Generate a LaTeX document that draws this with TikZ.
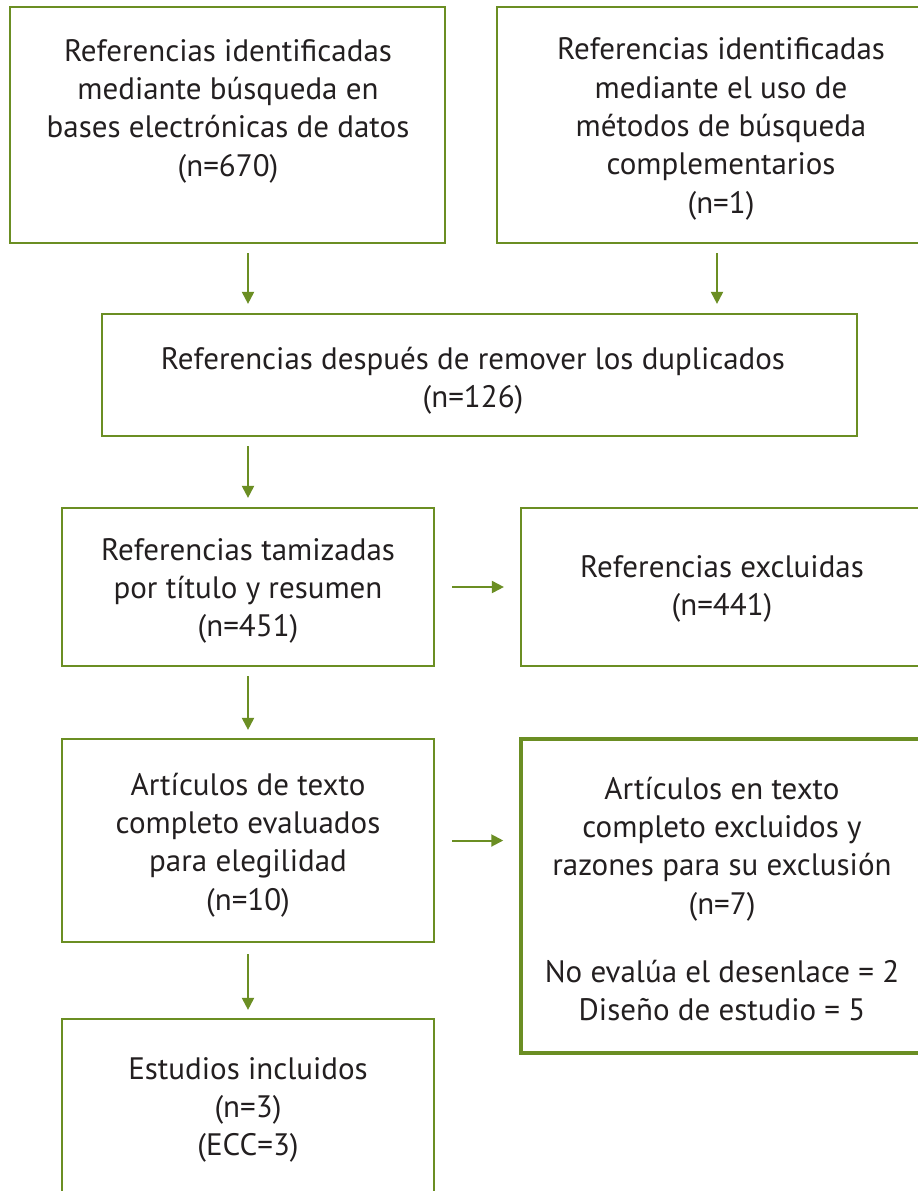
\documentclass[tikz,border=0pt]{standalone}
\usepackage{fontspec}
\setmainfont{PT Sans}
\usetikzlibrary{arrows.meta}
\definecolor{grn}{RGB}{107,142,35}
\definecolor{txt}{RGB}{35,31,32}
\begin{document}
\begin{tikzpicture}[x=1pt,y=-1pt,
  box/.style={draw=grn, line width=2.2pt, rectangle, inner sep=0pt},
  lbl/.style={text=txt, align=center, inner sep=0pt, font=\fontsize{31}{38.3}\selectfont},
  arr/.style={draw=grn, line width=2pt, -{Triangle[width=12pt,length=12pt]}, shorten <=9pt, shorten >=9pt}]
\clip (0,0) rectangle (918,1191);
\fill[white] (0,0) rectangle (918,1191);
% boxes
\node[box, minimum width=435pt, minimum height=236pt] (A) at (227.5,125) {};
\node[box, minimum width=440pt, minimum height=236pt] (B) at (717,125) {};
\node[box, minimum width=755pt, minimum height=122pt] (C) at (479.5,375) {};
\node[box, minimum width=372pt, minimum height=158pt] (D) at (248,587) {};
\node[box, minimum width=419pt, minimum height=158pt] (E) at (730.5,587) {};
\node[box, minimum width=372pt, minimum height=203pt] (F) at (248,840.5) {};
\node[box, line width=3.5pt, minimum width=419pt, minimum height=314pt] (G) at (730.5,896) {};
\node[box, minimum width=372pt, minimum height=201pt] (H) at (248,1119.5) {};
% texts
\node[lbl] (tA) at (228,111) {Referencias identificadas\\mediante búsqueda en\\bases electrónicas de datos\\(n=670)};
\node[lbl] (tB) at (721,129) {Referencias identificadas\\mediante el uso de\\métodos de búsqueda\\complementarios\\(n=1)};
\node[lbl] (tC) at (473,381) {Referencias después de remover los duplicados\\(n=126)};
\node[lbl] (tD) at (248,591) {Referencias tamizadas\\por título y resumen\\(n=451)};
\node[lbl] (tE) at (722,589) {Referencias excluidas\\(n=441)};
\node[lbl] (tF) at (248,845) {Artículos de texto\\completo evaluados\\para elegilidad\\(n=10)};
\node[lbl] (tG) at (722,899) {Artículos en texto\\completo excluidos y\\razones para su exclusión\\(n=7)\\[30pt]No evalúa el desenlace = 2\\Diseño de estudio = 5};
\node[lbl] (tH) at (248,1110) {Estudios incluidos\\(n=3)\\(ECC=3)};
% connectors
\draw[arr] (A.south -| D.north) -- (C.north -| D.north);
\draw[arr] (B.south) -- (B.south |- C.north);
\draw[arr] (C.south -| D.north) -- (D.north);
\draw[arr, shorten <=17pt, shorten >=16pt] (D.east) -- (E.west);
\draw[arr, shorten >=8pt] (D.south) -- (F.north);
\draw[arr, shorten <=17pt, shorten >=16pt] (F.east) -- (F.east -| G.west);
\draw[arr, shorten <=11pt, shorten >=8pt] (F.south) -- (H.north);
\end{tikzpicture}
\end{document}
